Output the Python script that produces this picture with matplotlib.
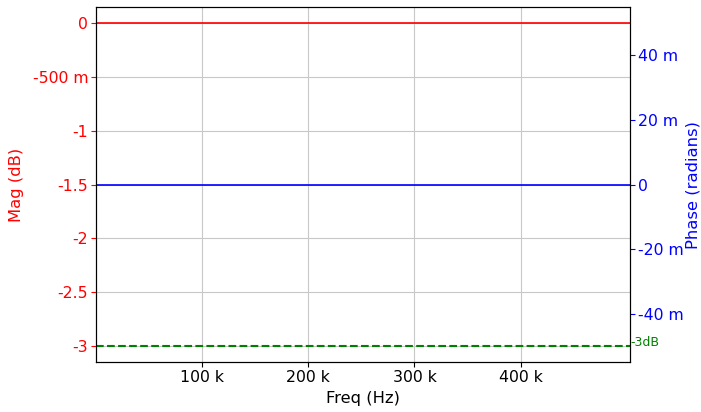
import numpy as np
import matplotlib
matplotlib.use("Agg")
import matplotlib.pyplot as plt
from matplotlib.ticker import EngFormatter

plt.rcParams["axes.unicode_minus"] = False

# data: flat response (0 dB, 0 rad) across the band
freq = [0, 100e3, 200e3, 300e3, 400e3, 503e3]
mag_db = [0, 0, 0, 0, 0, 0]
phase_rad = [0, 0, 0, 0, 0, 0]
ref_level = -3
ref_label = "-3dB"

x_ticks = [100e3, 200e3, 300e3, 400e3]
mag_ticks = [0, -0.5, -1, -1.5, -2, -2.5, -3]
phase_ticks = [-0.04, -0.02, 0, 0.02, 0.04]

fs = 11.3
fig = plt.figure(figsize=(7.01, 4.12), dpi=100)
ax = fig.add_axes([96 / 701, 1 - 362 / 412, (630 - 96) / 701, (362 - 7) / 412])

ax.plot(freq, mag_db, color="red", lw=1.2)
ax.axhline(ref_level, color="green", ls="--", lw=1.5)
ax.text(freq[-1], ref_level + 0.03, ref_label, color="green", fontsize=9,
        va="center", ha="left")
ax.set_xlim(freq[0], freq[-1])
ax.set_ylim(-3.15, 0.15)
ax.set_xticks(x_ticks)
ax.set_yticks(mag_ticks)
ax.xaxis.set_major_formatter(EngFormatter())
ax.yaxis.set_major_formatter(EngFormatter())
ax.grid(True, color="#c8c8c8")
ax.tick_params(axis="y", colors="red", labelsize=fs, pad=2)
ax.tick_params(axis="x", labelsize=fs, pad=2.5)
ax.set_xlabel("Freq (Hz)", fontsize=11.8)
ax.set_ylabel("Mag (dB)", color="red", fontsize=11.8)
ax.yaxis.set_label_coords(-0.134, 0.5)

ax2 = ax.twinx()
ax2.plot(freq, phase_rad, color="blue", lw=1.2)
ax2.set_ylim(-0.055, 0.055)
ax2.set_yticks(phase_ticks)
ax2.yaxis.set_major_formatter(EngFormatter())
ax2.tick_params(axis="y", colors="blue", labelsize=fs, pad=2)
ax2.set_ylabel("Phase (radians)", color="blue", fontsize=11.8)
ax2.yaxis.set_label_coords(1.104, 0.5)

fig.savefig("out.png", dpi=100)
